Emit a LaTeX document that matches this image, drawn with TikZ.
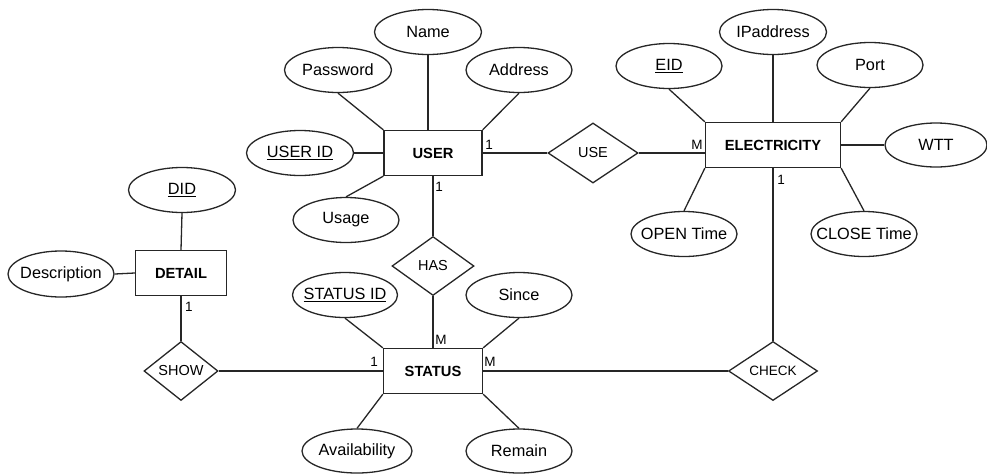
\documentclass[tikz,border=0pt]{standalone}
\usepackage{fontspec}
\setmainfont{Liberation Sans}
\usetikzlibrary{shapes.geometric}
\newcommand{\zwbox}[1]{\makebox[0pt]{#1}}
\tikzset{
  lw/.style={line width=1.3pt, draw=black!85},
  attr/.style={lw, ellipse, inner sep=0pt, minimum width=107pt, minimum height=45pt, font=\fontsize{16.3}{17}\selectfont},
  ent/.style={lw, rectangle, inner sep=0pt, minimum height=45pt, font=\fontsize{14.7}{15}\selectfont\bfseries},
  rel/.style={lw, diamond, inner sep=0pt, font=\fontsize{14.5}{15}\selectfont},
  card/.style={inner sep=0pt, font=\fontsize{13.5}{14}\selectfont},
  conn/.style={lw}
}
\begin{document}
\begin{tikzpicture}[x=1pt,y=-1pt]
\useasboundingbox (0,0) rectangle (987,474);
% USER cluster
\node[attr] (name) at (428,32) {\zwbox{Name}};
\node[attr] (pw) at (338,70) {\zwbox{Password}};
\node[attr, minimum width=106pt] (addr) at (519,70) {\zwbox{Address}};
\node[attr] (uid) at (300,153) {\zwbox{\underline{USER ID}}};
\node[attr, minimum width=106pt] (usage) at (346,220) {\zwbox{Usage}};
\node[ent, minimum width=98pt] (user) at (433,153) {USER};
\node[rel, minimum width=90pt, minimum height=60pt] (use) at (593,153) {\zwbox{USE}};
% ELECTRICITY cluster
\node[ent, minimum width=135pt] (elec) at (773,145) {ELECTRICITY};
\node[attr, minimum width=106pt] (eid) at (669,66) {\zwbox{\underline{EID}}};
\node[attr] (ip) at (773,32) {\zwbox{IPaddress}};
\node[attr, minimum width=106pt] (port) at (870,65) {\zwbox{Port}};
\node[attr, minimum width=102pt, minimum height=44pt] (wtt) at (936,145) {\zwbox{WTT}};
\node[attr, minimum width=106pt] (open) at (684,234) {\zwbox{OPEN Time}};
\node[attr, minimum width=106pt] (close) at (864,234) {\zwbox{CLOSE Time}};
% DETAIL cluster
\node[attr] (did) at (182,190) {\zwbox{\underline{DID}}};
\node[attr, minimum width=106pt, minimum height=46pt] (desc) at (61,274) {\zwbox{Description}};
\node[ent, minimum width=91pt] (detail) at (181,273) {DETAIL};
\node[rel, minimum width=74pt, minimum height=59pt] (show) at (181,371) {\zwbox{SHOW}};
% STATUS cluster
\node[rel, minimum width=82pt, minimum height=59pt] (has) at (433,266) {\zwbox{HAS}};
\node[attr, minimum width=105pt] (sid) at (345,295) {\zwbox{\underline{STATUS ID}}};
\node[ent, minimum width=99pt] (status) at (433,371) {STATUS};
\node[attr, minimum width=106pt] (since) at (519,295) {\zwbox{Since}};
\node[attr, minimum width=110pt, minimum height=44pt] (avail) at (357,451) {\zwbox{Availability}};
\node[attr, minimum width=106pt, minimum height=44pt] (remain) at (519,451) {\zwbox{Remain}};
\node[rel, minimum width=89pt, minimum height=59pt, font=\fontsize{13.5}{14}\selectfont] (check) at (773,371) {\zwbox{CHECK}};
% connectors
\draw[conn] (pw.south) -- (user.north west);
\draw[conn] (name.south) -- (name.south |- user.north);
\draw[conn] (addr.south) -- (user.north east);
\draw[conn] (uid.east) -- (user.west);
\draw[conn] (usage.north) -- (user.south west);
\draw[conn] (user.east) -- (use.west);
\draw[conn] (use.east) -- (use.east -| elec.west);
\draw[conn] (user.south) -- (has.north);
\draw[conn] (has.south) -- (status.north);
\draw[conn] (eid.south) -- (elec.north west);
\draw[conn] (ip.south) -- (elec.north);
\draw[conn] (port.south) -- (elec.north east);
\draw[conn] (elec.east) -- (wtt.west);
\draw[conn] (open.north) -- (elec.south west);
\draw[conn] (close.north) -- (elec.south east);
\draw[conn] (elec.south) -- (check.north);
\draw[conn] (did.south) -- (detail.north);
\draw[conn] (desc.east) -- (detail.west);
\draw[conn] (detail.south) -- (show.north);
\draw[conn] (show.east) -- (status.west);
\draw[conn] (sid.south) -- (status.north west);
\draw[conn] (since.south) -- (status.north east);
\draw[conn] (avail.north) -- (status.south west);
\draw[conn] (remain.north) -- (status.south east);
\draw[conn] (status.east) -- (check.west);
% cardinalities
\node[card] (c1) at (489,145) {1};
\node[card] (c2) at (439,187) {1};
\node[card] (c3) at (697,145) {M};
\node[card] (c4) at (781,180) {1};
\node[card] (c5) at (189,307) {1};
\node[card] (c6) at (374,362) {1};
\node[card] (c7) at (441,340) {M};
\node[card] (c8) at (490,362) {M};
\end{tikzpicture}
\end{document}
